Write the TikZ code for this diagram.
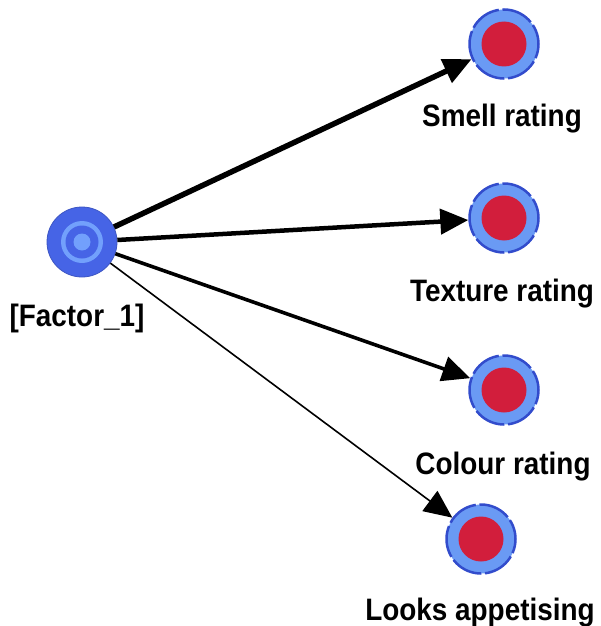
\documentclass[tikz,border=0pt]{standalone}
\usepackage{graphicx}
\usepackage{fontspec}
\setmainfont{Liberation Sans}
\usetikzlibrary{arrows.meta}

\definecolor{ringlight}{RGB}{106,154,244}
\definecolor{ringdark}{RGB}{50,76,204}
\definecolor{indred}{RGB}{210,30,60}
\definecolor{factdark}{RGB}{70,100,230}
\definecolor{factlight}{RGB}{114,160,252}

\tikzset{
  indicator/.style={circle, minimum size=69pt, inner sep=0pt,
    fill=ringlight, draw=ringdark, line width=2.5pt,
    dash pattern=on 32pt off 3.7pt, dash phase=12pt,
    path picture={\fill[indred] (path picture bounding box.center) circle (22.5pt);}},
  factor/.style={circle, minimum size=70pt, inner sep=0pt,
    fill=factdark, draw=factdark!85!black, line width=0.8pt,
    path picture={
      \fill[factlight] (path picture bounding box.center) circle (21pt);
      \fill[factdark] (path picture bounding box.center) circle (16.5pt);
      \fill[factlight] (path picture bounding box.center) circle (8.5pt);}},
  lbl/.style={anchor=base, inner sep=0pt,
    font=\bfseries\fontsize{31}{31}\selectfont},
  load/.style={-{Triangle[length=28pt,width=25pt]}, black},
}
\newcommand{\narrowtext}[1]{\scalebox{0.9}[1]{#1}}

\begin{document}
\begin{tikzpicture}[x=1pt, y=-1pt]
  \useasboundingbox (0,0) rectangle (600,626);

  % latent factor and its indicators
  \node[factor] (f) at (82,242) {};
  \node[indicator] (s) at (504,44) {};
  \node[indicator] (t) at (504,218) {};
  \node[indicator] (c) at (504,390) {};
  \node[indicator] (l) at (481,539) {};

  % labels
  \node[lbl] (fl) at (77,326) {\narrowtext{[Factor\_1]}};
  \node[lbl] (sl) at (502,126) {\narrowtext{Smell rating}};
  \node[lbl] (tl) at (502,301) {\narrowtext{Texture rating}};
  \node[lbl] (cl) at (503,474) {\narrowtext{Colour rating}};
  \node[lbl] (ll) at (480,620) {\narrowtext{Looks appetising}};

  % loadings, line width by strength
  \draw[load, line width=5.5pt] (f) -- (s);
  \draw[load, line width=4.5pt] (f) -- (t);
  \draw[load, line width=3.6pt] (f) -- (c);
  \draw[load, line width=1.6pt] (f) -- (l);
\end{tikzpicture}
\end{document}
